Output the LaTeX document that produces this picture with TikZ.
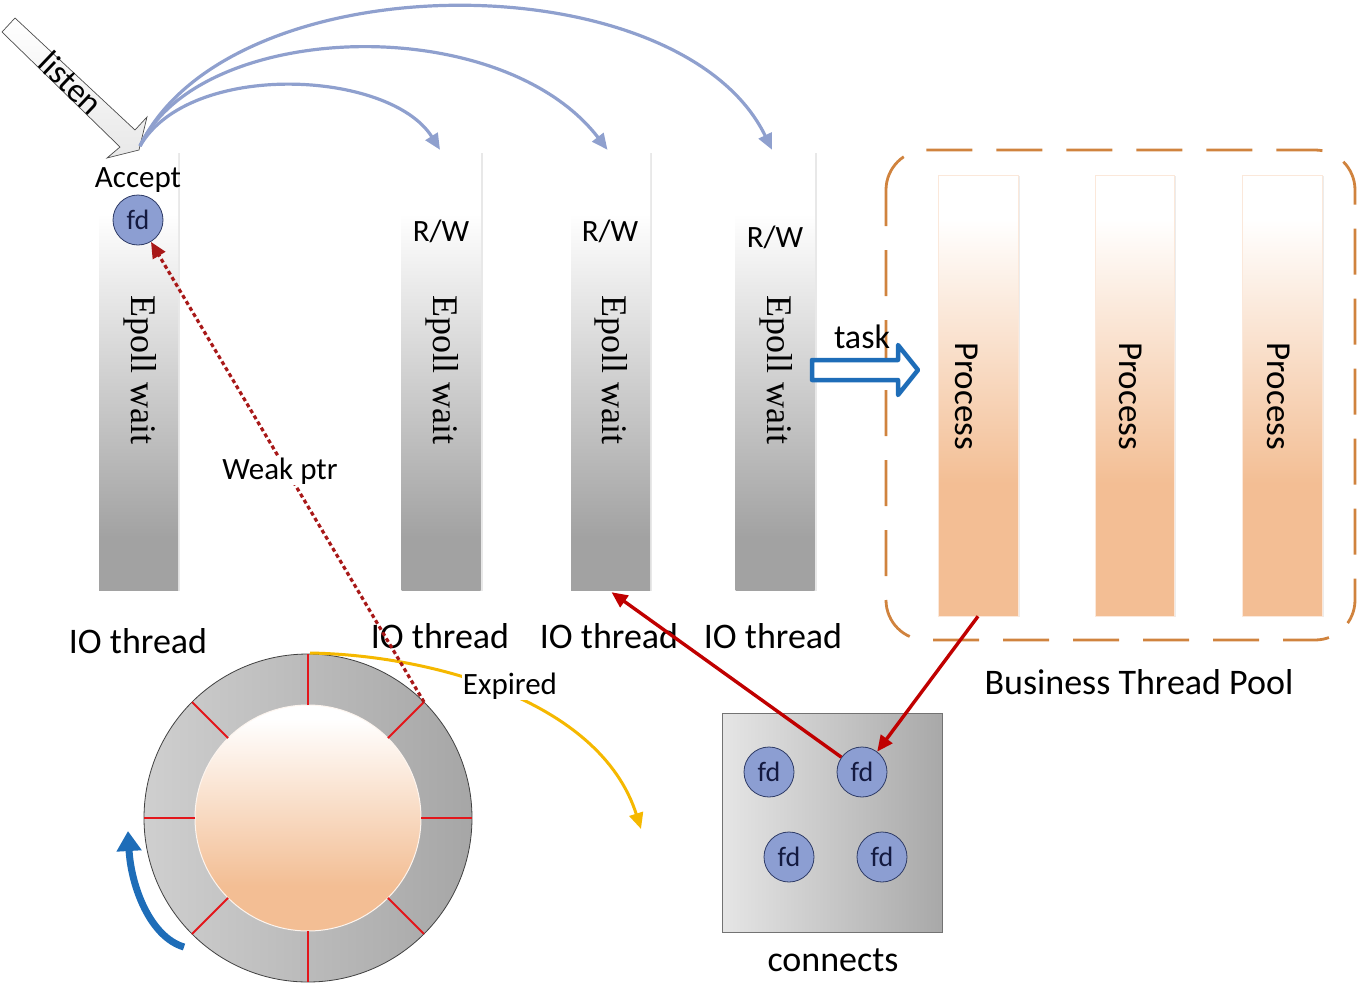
\documentclass[tikz,border=0pt]{standalone}
\usepackage{fontspec}
\setmainfont{Carlito}
\newfontfamily\serifw{Liberation Serif}
\usetikzlibrary{arrows.meta,shadows}
\definecolor{lineblue}{HTML}{8FA0CE}
\definecolor{fdfill}{HTML}{8C9ED2}
\definecolor{fdborder}{HTML}{2E3B66}
\definecolor{fdtext}{HTML}{141A40}
\definecolor{darkred}{HTML}{C00000}
\definecolor{dotred}{HTML}{A81818}
\definecolor{poolorange}{HTML}{D0833E}
\definecolor{peach}{HTML}{F3BE94}
\definecolor{taskblue}{HTML}{1E6DB8}
\definecolor{yel}{HTML}{F5B800}
\definecolor{spokered}{HTML}{E3161B}
\definecolor{epgray}{HTML}{A2A2A2}
\definecolor{ringlight}{HTML}{CFCFCF}
\definecolor{ringdark}{HTML}{A6A6A6}
\pgfdeclareverticalshading{epshade}{100bp}{color(0bp)=(epgray); color(25bp)=(epgray); color(31bp)=(epgray); color(68bp)=(white); color(75bp)=(white); color(100bp)=(white)}
\pgfdeclareverticalshading{procshade}{100bp}{color(0bp)=(peach); color(25bp)=(peach); color(40bp)=(peach); color(70bp)=(white); color(75bp)=(white); color(100bp)=(white)}
\pgfdeclareverticalshading{innershade}{100bp}{color(0bp)=(peach); color(25bp)=(peach); color(35bp)=(peach); color(72bp)=(white); color(75bp)=(white); color(100bp)=(white)}
\begin{document}
\begin{tikzpicture}[x=1pt,y=-1pt,
  epbar/.style={inner sep=0pt, minimum width=79pt, minimum height=438pt, shading=epshade, drop shadow={opacity=0.18, shadow xshift=2pt, shadow yshift=-1pt}},
  procbar/.style={inner sep=0pt, minimum width=80pt, minimum height=441pt, shading=procshade, draw=peach!35, line width=0.6pt, drop shadow={opacity=0.15, shadow xshift=2pt, shadow yshift=-1pt}},
  eptext/.style={font=\serifw\fontsize{36}{40}\selectfont, rotate=-90, inner sep=0pt},
  proctext/.style={font=\fontsize{35}{40}\selectfont, rotate=-90, inner sep=0pt},
  lbl/.style={font=\fontsize{31}{36}\selectfont, inner sep=1pt},
  biglbl/.style={font=\fontsize{36}{40}\selectfont, inner sep=1pt},
  fdc/.style={circle, minimum size=50pt, inner sep=0pt, fill=fdfill, draw=fdborder, line width=0.8pt, text=fdtext, font=\fontsize{28}{30}\selectfont},
  bluecurve/.style={draw=lineblue, line width=3.2pt, -{Triangle[length=16pt,width=14pt]}},
  redarrow/.style={draw=darkred, line width=3.4pt, -{Triangle[length=16pt,width=14pt]}},
  weak/.style={draw=dotred, line width=3.2pt, dash pattern=on 4pt off 3pt, -{Triangle[length=16pt,width=14pt]}},
  spoke/.style={draw=spokered, line width=2pt},
]
\useasboundingbox (0,0) rectangle (1361,999);

% ---------- IO thread bars ----------
\node[epbar] (b1) at (138.5,371) {};
\node[epbar] (b2) at (441,371) {};
\node[epbar] (b3) at (610.5,371) {};
\node[epbar] (b4) at (775,371) {};
\node[eptext] (e1) at (140,370) {Epoll wait};
\node[eptext] (e2) at (442,370) {Epoll wait};
\node[eptext] (e3) at (611,370) {Epoll wait};
\node[eptext] (e4) at (776,370) {Epoll wait};
\node[lbl] (acc) at (138,180) {Accept};
\node[lbl] (rw2) at (441,231) {R/W};
\node[lbl] (rw3) at (610,231) {R/W};
\node[lbl] (rw4) at (775,237) {R/W};
\node[fdc] (f0) at (138,220) {fd};
\node[biglbl] (io1) at (138,641) {IO thread};
\node[biglbl] (io2) at (440,636) {IO thread};
\node[biglbl] (io3) at (609,636) {IO thread};
\node[biglbl] (io4) at (773,636) {IO thread};

% ---------- listen arrow ----------
\draw[draw=black!70, line width=0.7pt, top color=white, bottom color=black!9, line join=miter]
  (2,32) -- (15,18) -- (135,130) -- (147,117) -- (139,150) -- (107,158) -- (120,147) -- cycle;
\node[font=\fontsize{34}{40}\selectfont, rotate=-43.6, inner sep=0pt] (lis) at (71,83) {listen};
\coordinate (src) at (140,146);

% ---------- accept -> IO thread curves ----------
\draw[bluecurve] (src) .. controls (190,60) and (390,70) .. ([xshift=-1pt,yshift=2pt]b2.north);
\draw[bluecurve] (src) .. controls (200,20) and (500,10) .. ([xshift=-3pt,yshift=2pt]b3.north);
\draw[bluecurve] (src) .. controls (230,-40) and (680,-40) .. ([xshift=-3pt,yshift=2pt]b4.north);

% ---------- business thread pool ----------
\draw[draw=poolorange, line width=2.8pt, dash pattern=on 46pt off 24pt, dash phase=10pt, rounded corners=40pt]
  (886,150) rectangle (1355,640);
\node[procbar] (p1) at (978,395.5) {};
\node[procbar, minimum width=79pt] (p2) at (1134.5,395.5) {};
\node[procbar] (p3) at (1282,395.5) {};
\node[proctext] (t1) at (967,396) {Process};
\node[proctext] (t2) at (1131,396) {Process};
\node[proctext] (t3) at (1279,396) {Process};
\node[biglbl] (pool) at (1139,682) {Business Thread Pool};

% ---------- task arrow ----------
\draw[draw=taskblue, fill=white, line width=4.5pt, line join=round]
  (812,360) -- (898,360) -- (898,345) -- (918,370) -- (898,395) -- (898,380) -- (812,380) -- cycle;
\node[font=\fontsize{34}{40}\selectfont, inner sep=0pt] (task) at (862,337) {task};

% ---------- connects ----------
\node[inner sep=0pt, minimum width=220pt, minimum height=219pt, left color=black!10, right color=black!34, draw=black!55, line width=0.8pt] (cb) at (832,822.5) {};
\node[fdc] (c1) at (769,772) {fd};
\node[fdc] (c2) at (862,772) {fd};
\node[fdc] (c3) at (789,857) {fd};
\node[fdc] (c4) at (882,857) {fd};
\node[biglbl] (conn) at (833,960) {connects};

\draw[redarrow] (p1.south) -- (c2);
\draw[redarrow] (c2) -- ([xshift=1pt,yshift=-2pt]b3.south);

% ---------- timing wheel ----------
\coordinate (wc) at (308,818);
\shade[left color=ringlight, right color=ringdark] (wc) circle (164);
\draw[black!75, line width=0.8pt] (wc) circle (164);
\shade[shading=innershade] (wc) circle (113);
\draw[white!85!peach, line width=1pt] (wc) circle (113);
\foreach \a in {0,45,...,315} \draw[spoke] ([shift={(\a:113)}]wc) -- ([shift={(\a:164)}]wc);
\coordinate (wp) at (424,702);
\coordinate (wtop) at (310,653);
\coordinate (yend) at (641,829);

\draw[draw=taskblue, line width=7pt, -{Triangle[length=20pt,width=24pt]}]
  (184,947) .. controls (150,937) and (131,886) .. (128,831);

% expired arrow
\draw[draw=yel, line width=3pt, -{Triangle[length=16pt,width=14pt]}]
  (wtop) .. controls (430,655) and (600,700) .. (yend);
\node[lbl, fill=white] (exp) at (510,686) {Expired};

% weak ptr
\draw[weak] (wp) -- (f0);
\node[lbl, fill=white] (wk) at (280,471) {Weak ptr};
\end{tikzpicture}
\end{document}
